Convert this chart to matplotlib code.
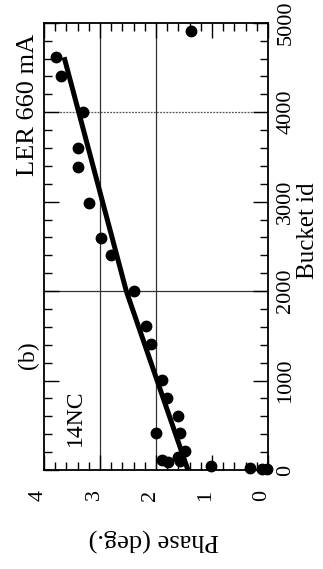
"""
    LER 660 mA: phase vs bucket id (figure rotated by 90 deg)
"""
from matplotlib import pyplot as plt
from matplotlib import transforms
from matplotlib.ticker import MultipleLocator

plt.rcParams['font.family'] = ['Liberation Serif', 'DejaVu Serif']

# measured points (phase in deg., bucket id)
phase = [3.79, 3.69, 3.30, 3.39, 3.39, 3.19, 2.99, 2.80, 2.40, 2.18,
         2.09, 1.90, 1.81, 1.60, 2.00, 1.58, 1.49, 1.60, 1.90, 1.79,
         1.57, 1.01, 0.32, 0.11, 0.02, 1.375]
bucket = [4615, 4400, 4000, 3600, 3390, 2990, 2595, 2400, 2000, 1610,
          1410, 1010, 800, 605, 410, 410, 212, 145, 107, 90,
          100, 45, 25, 12, 12, 4910]

# fitted line
fit_bucket = [0, 2000, 4615]
fit_phase = [1.43, 2.53, 3.64]

# grid lines
grid_phase = [2, 3]
grid_bucket = [2000, 4000]

fig = plt.figure(figsize=(3.23, 5.69), dpi=100)
ax = fig.add_axes([0.136, 0.174, 0.694, 0.786])

for p in grid_phase:
    ax.axvline(p, color="#333333", lw=0.9, zorder=1)
ax.axhline(grid_bucket[0], color="#333333", lw=0.9, zorder=1)
ax.axhline(grid_bucket[1], color="#555555", lw=0.9, ls=(0, (1.5, 1)), zorder=1)

ax.plot(fit_phase, fit_bucket, color="black", lw=3.6, solid_capstyle="butt", zorder=2)
ax.plot(phase, bucket, "o", color="black", ms=7.5, zorder=3, clip_on=False)

ax.set_xlim(4, 0)
ax.set_ylim(0, 5000)

ax.xaxis.set_major_locator(MultipleLocator(1))
ax.xaxis.set_minor_locator(MultipleLocator(0.2))
ax.yaxis.set_major_locator(MultipleLocator(1000))
ax.yaxis.set_minor_locator(MultipleLocator(200))

ax.tick_params(which="both", direction="in", top=True, bottom=True, left=True, right=True,
               labelleft=False, labelright=True, width=1.0)
ax.tick_params(which="major", length=11)
ax.tick_params(which="minor", length=6)
ax.tick_params(axis="x", labelsize=16, labelrotation=90, pad=14)
ax.tick_params(axis="y", labelsize=16, labelrotation=90, pad=6)
for lab in ax.get_yticklabels():
    lab.set_va("center")

# phase labels sit a little left of their ticks in the original
shift = transforms.ScaledTranslation(-0.06, 0, fig.dpi_scale_trans)
for lab in ax.get_xticklabels():
    lab.set_transform(lab.get_transform() + shift)

for s in ax.spines.values():
    s.set_linewidth(1.3)

ax.set_xlabel("Phase (deg.)", fontsize=19, rotation=180)
ax.xaxis.set_label_coords(0.49, -0.155)
ax.xaxis.label.set_va("center")
ax.yaxis.set_label_position("right")
ax.set_ylabel("Bucket id", fontsize=18, rotation=90)
ax.yaxis.set_label_coords(1.18, 0.535)
ax.yaxis.label.set_va("center")
ax.yaxis.label.set_ha("center")

fig.text(0.087, 0.815, "LER 660 mA", fontsize=19, rotation=90, ha="center", va="center")
fig.text(0.087, 0.376, "(b)", fontsize=17, rotation=90, ha="center", va="center")
fig.text(0.235, 0.265, "14NC", fontsize=17, rotation=90, ha="center", va="center")

plt.savefig("out.png", dpi=100)
